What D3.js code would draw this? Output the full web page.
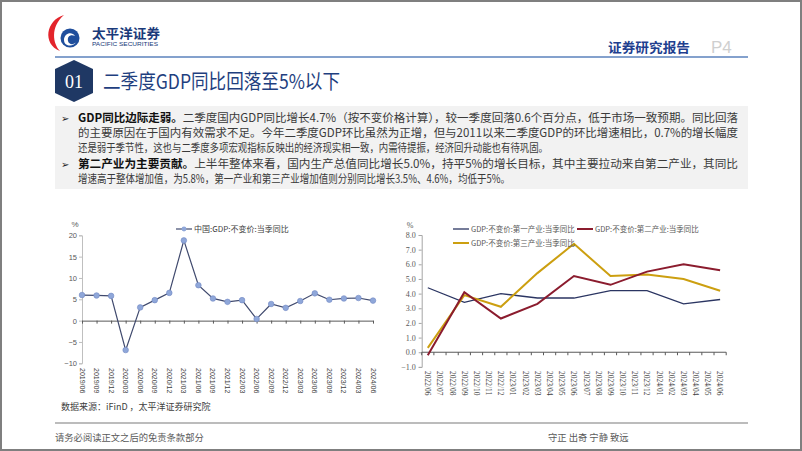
<!DOCTYPE html>
<html>
<head>
<meta charset="utf-8">
<script src="https://cdn.jsdelivr.net/npm/d3@7"></script>
<style>
  body { margin: 0; background: #fff; }
  svg { display: block; }
</style>
</head>
<body>
<script>
// left chart: GDP yoy, quarterly
var gdpDates = ["2019/06","2019/09","2019/12","2020/03","2020/06","2020/09","2020/12","2021/03","2021/06","2021/09","2021/12",
  "2022/03","2022/06","2022/09","2022/12","2023/03","2023/06","2023/09","2023/12","2024/03","2024/06"];
var gdpYoY = [6.0, 5.9, 5.8, -6.9, 3.1, 4.8, 6.5, 18.8, 8.3, 5.2, 4.4, 4.8, 0.4, 3.9, 3.0, 4.6, 6.4, 4.9, 5.2, 5.3, 4.7];
var leftTicks = [-10, -5, 0, 5, 10, 15, 20];

// right chart: industries, monthly axis, quarterly data
var months = ["2022/06","2022/07","2022/08","2022/09","2022/10","2022/11","2022/12","2023/01","2023/02","2023/03","2023/04",
  "2023/05","2023/06","2023/07","2023/08","2023/09","2023/10","2023/11","2023/12","2024/01","2024/02","2024/03","2024/04","2024/05","2024/06"];
var quarters = ["2022/06","2022/09","2022/12","2023/03","2023/06","2023/09","2023/12","2024/03","2024/06"];
var primary = [4.4, 3.4, 4.0, 3.7, 3.7, 4.2, 4.2, 3.3, 3.6];
var secondary = [-0.2, 4.1, 2.3, 3.3, 5.2, 4.6, 5.5, 6.0, 5.6];
var tertiary = [0.3, 3.9, 3.1, 5.4, 7.4, 5.2, 5.3, 5.0, 4.2];
var rightTicks = [-1, 0, 1, 2, 3, 4, 5, 6, 7, 8];
var seriesNames = ["GDP:不变价:第一产业:当季同比", "GDP:不变价:第二产业:当季同比", "GDP:不变价:第三产业:当季同比"];

var cjk = "'Noto Sans CJK SC', 'Noto Sans', sans-serif";
var W = 802, H = 451;

var svg = d3.select("body").append("svg")
  .attr("width", W).attr("height", H);

svg.append("rect").attr("x", 1).attr("y", 1).attr("width", W - 2).attr("height", H - 2)
  .attr("fill", "#fff").attr("stroke", "#7f7f7f").attr("stroke-width", 2);

// ---- header / logo
var logo = svg.append("g");
logo.append("path")
  .attr("d", "M64,15 C46,20 42,44 60,51 C53,44 50,27 64,15 Z")
  .attr("fill", "#e3242b");
logo.append("circle").attr("cx", 70).attr("cy", 38).attr("r", 9.5).attr("fill", "#1f4e9c");
logo.append("path")
  .attr("d", "M64,40 C64,33 72,31 75,36 C71,34 67,36 68,41 C69,45 74,45 76,42 C74,47 64,47 64,40 Z")
  .attr("fill", "#fff");
logo.append("text").attr("x", 92).attr("y", 38).text("太平洋证券")
  .attr("font-family", cjk).attr("font-weight", "bold").attr("font-size", 13)
  .attr("textLength", 68).attr("lengthAdjust", "spacingAndGlyphs").attr("fill", "#1a3a7a");
logo.append("text").attr("x", 92).attr("y", 46).text("PACIFIC SECURITIES")
  .attr("font-family", "Liberation Sans, Arial, sans-serif").attr("font-size", 5.5)
  .attr("textLength", 66).attr("lengthAdjust", "spacingAndGlyphs").attr("fill", "#1a3a7a");

svg.append("text").attr("x", 608).attr("y", 52).text("证券研究报告")
  .attr("font-family", cjk).attr("font-weight", "bold").attr("font-size", 13)
  .attr("textLength", 82).attr("lengthAdjust", "spacingAndGlyphs").attr("fill", "#1f3f8f");
svg.append("text").attr("x", 711).attr("y", 53).text("P4")
  .attr("font-family", "Liberation Sans, Arial, sans-serif").attr("font-size", 17)
  .attr("fill", "#cfcfcf");
svg.append("line").attr("x1", 55).attr("x2", 748).attr("y1", 57).attr("y2", 57)
  .attr("stroke", "#5b82bd").attr("stroke-width", 1.5);

// ---- section title
svg.append("path")
  .attr("d", "M74,60 L93,69 L93,93 L74,102 L55,93 L55,69 Z")
  .attr("fill", "#1f3864");
svg.append("text").attr("x", 74).attr("y", 88).text("01")
  .attr("text-anchor", "middle").attr("font-family", "Liberation Serif, serif")
  .attr("font-size", 18).attr("fill", "#fff");
svg.append("text").attr("x", 103).attr("y", 89).text("二季度GDP同比回落至5%以下")
  .attr("font-family", cjk).attr("font-size", 20)
  .attr("textLength", 237).attr("lengthAdjust", "spacingAndGlyphs").attr("fill", "#1f3f7f");

// ---- text box
svg.append("rect").attr("x", 55).attr("y", 106).attr("width", 693).attr("height", 83).attr("fill", "#f2f2f2");

var lines = [
  { y: 122, bullet: true, bold: "GDP同比边际走弱。", rest: "二季度国内GDP同比增长4.7%（按不变价格计算），较一季度回落0.6个百分点，低于市场一致预期。同比回落", len: 660 },
  { y: 137, bold: "", rest: "的主要原因在于国内有效需求不足。今年二季度GDP环比虽然为正增，但与2011以来二季度GDP的环比增速相比，0.7%的增长幅度", len: 660 },
  { y: 152, bold: "", rest: "还是弱于季节性，这也与二季度多项宏观指标反映出的经济现实相一致，内需待提振，经济回升动能也有待巩固。", len: 470 },
  { y: 168, bullet: true, bold: "第二产业为主要贡献。", rest: "上半年整体来看，国内生产总值同比增长5.0%，持平5%的增长目标，其中主要拉动来自第二产业，其同比", len: 660 },
  { y: 183, bold: "", rest: "增速高于整体增加值，为5.8%，第一产业和第三产业增加值则分别同比增长3.5%、4.6%，均低于5%。", len: 432 }
];
lines.forEach(function(l) {
  if (l.bullet) {
    svg.append("text").attr("x", 61).attr("y", l.y).text("➢")
      .attr("font-family", "DejaVu Sans, sans-serif").attr("font-size", 10).attr("fill", "#222");
  }
  var t = svg.append("text").attr("x", 78).attr("y", l.y)
    .attr("font-family", cjk).attr("font-size", 11.6).attr("fill", "#3a3a3a")
    .attr("textLength", l.len).attr("lengthAdjust", "spacingAndGlyphs");
  if (l.bold) t.append("tspan").attr("font-weight", "bold").attr("fill", "#111").text(l.bold);
  t.append("tspan").text(l.rest);
});

// ---- left chart
var xL = d3.scalePoint().domain(gdpDates).range([82, 373]).padding(0);
var yL = d3.scaleLinear().domain([-10, 20]).range([363.3, 235.3]);
var left = svg.append("g");

var yAxisL = left.append("g")
  .attr("transform", "translate(82,0)")
  .call(d3.axisLeft(yL).tickValues(leftTicks).tickSize(3).tickPadding(2));
yAxisL.select(".domain").attr("stroke", "#bfbfbf");
yAxisL.selectAll(".tick line").attr("stroke", "#bfbfbf");
yAxisL.selectAll("text").attr("font-family", "Liberation Sans, Arial, sans-serif")
  .attr("font-size", 7.5).attr("fill", "#595959");

var xAxisL = left.append("g")
  .attr("transform", "translate(0," + yL(0) + ")")
  .call(d3.axisBottom(xL).tickSize(3).tickSizeOuter(0).tickFormat(""));
xAxisL.select(".domain").attr("stroke", "#595959");
xAxisL.selectAll(".tick line").attr("stroke", "#595959");

left.selectAll(".xlab").data(gdpDates).enter().append("text")
  .attr("transform", function(d) { return "translate(" + xL(d) + ",368) rotate(90)"; })
  .attr("dy", "0.35em").text(function(d) { return d; })
  .attr("font-family", "Liberation Sans, Arial, sans-serif").attr("font-size", 7)
  .attr("fill", "#404040");

left.append("text").attr("x", 75).attr("y", 227).text("%")
  .attr("text-anchor", "middle").attr("font-family", "Liberation Sans, Arial, sans-serif")
  .attr("font-size", 8).attr("fill", "#595959");

var lineL = d3.line().x(function(d, i) { return xL(gdpDates[i]); }).y(function(d) { return yL(d); });
left.append("path").datum(gdpYoY).attr("d", lineL)
  .attr("fill", "none").attr("stroke", "#404a6e").attr("stroke-width", 1.2);
left.selectAll(".dot").data(gdpYoY).enter().append("circle")
  .attr("cx", function(d, i) { return xL(gdpDates[i]); })
  .attr("cy", function(d) { return yL(d); })
  .attr("r", 2.8).attr("fill", "#8fa7d9").attr("stroke", "#7389c4").attr("stroke-width", 0.6);

// legend
left.append("line").attr("x1", 176).attr("x2", 192).attr("y1", 229).attr("y2", 229)
  .attr("stroke", "#404a6e").attr("stroke-width", 1.2);
left.append("circle").attr("cx", 184).attr("cy", 229).attr("r", 2.4).attr("fill", "#8fa7d9");
left.append("text").attr("x", 194).attr("y", 232).text("中国:GDP:不变价:当季同比")
  .attr("font-family", cjk).attr("font-size", 8).attr("fill", "#404040");

// ---- right chart
var xR = d3.scalePoint().domain(months).range([421.7, 726.2]).padding(0.5);
var yR = d3.scaleLinear().domain([-1, 8]).range([366.9, 235]);
var right = svg.append("g");

var yAxisR = right.append("g")
  .attr("transform", "translate(421.7,0)")
  .call(d3.axisLeft(yR).tickValues(rightTicks).tickSize(3).tickPadding(3).tickFormat(d3.format(".1f")));
yAxisR.select(".domain").attr("stroke", "#a6a6a6");
yAxisR.selectAll(".tick line").attr("stroke", "#a6a6a6");
yAxisR.selectAll("text").attr("font-family", "Liberation Serif, serif")
  .attr("font-size", 8).attr("fill", "#595959");

// x axis at zero, ticks between months
var stepR = xR.step();
var bounds = d3.range(months.length + 1).map(function(i) { return 421.7 + i * stepR; });
right.append("line").attr("x1", 421.7).attr("x2", 726.2).attr("y1", yR(0)).attr("y2", yR(0))
  .attr("stroke", "#595959");
right.selectAll(".xtick").data(bounds).enter().append("line")
  .attr("x1", function(d) { return d; }).attr("x2", function(d) { return d; })
  .attr("y1", yR(0)).attr("y2", yR(0) + 3).attr("stroke", "#595959");

right.selectAll(".xlab").data(months).enter().append("text")
  .attr("transform", function(d) { return "translate(" + xR(d) + ",371) rotate(90)"; })
  .attr("dy", "0.35em").text(function(d) { return d; })
  .attr("font-family", "Liberation Serif, serif").attr("font-size", 7.5)
  .attr("fill", "#404040");

right.append("text").attr("x", 410).attr("y", 228).text("%")
  .attr("text-anchor", "middle").attr("font-family", "Liberation Serif, serif")
  .attr("font-size", 8).attr("fill", "#595959");

var series = [
  { name: seriesNames[0], values: primary, color: "#2b3562", width: 1.3 },
  { name: seriesNames[1], values: secondary, color: "#8b1c2e", width: 2 },
  { name: seriesNames[2], values: tertiary, color: "#cc9f10", width: 2 }
];
var lineR = d3.line().x(function(d, i) { return xR(quarters[i]); }).y(function(d) { return yR(d); });
[0, 2, 1].forEach(function(k) {
  right.append("path").datum(series[k].values).attr("d", lineR)
    .attr("fill", "none").attr("stroke", series[k].color).attr("stroke-width", series[k].width);
});

var legPos = [[453, 229], [577, 229], [453, 243]];
series.forEach(function(s, i) {
  var p = legPos[i];
  right.append("line").attr("x1", p[0]).attr("x2", p[0] + 16).attr("y1", p[1]).attr("y2", p[1])
    .attr("stroke", s.color).attr("stroke-width", s.width);
  right.append("text").attr("x", p[0] + 18).attr("y", p[1] + 2.7).text(s.name)
    .attr("font-family", cjk).attr("font-size", 7.5).attr("fill", "#595959");
});

// ---- source and footer
svg.append("text").attr("x", 61).attr("y", 410).text("数据来源：iFinD ，太平洋证券研究院")
  .attr("font-family", cjk).attr("font-size", 9).attr("fill", "#404040");
svg.append("line").attr("x1", 55).attr("x2", 748).attr("y1", 423).attr("y2", 423)
  .attr("stroke", "#a6a6a6").attr("stroke-width", 1.5);
svg.append("text").attr("x", 55).attr("y", 441).text("请务必阅读正文之后的免责条款部分")
  .attr("font-family", cjk).attr("font-size", 9.3).attr("fill", "#595959");
svg.append("text").attr("x", 548).attr("y", 441).text("守正 出奇 宁静 致远")
  .attr("font-family", cjk).attr("font-size", 9.3).attr("fill", "#595959");
</script>
</body>
</html>
